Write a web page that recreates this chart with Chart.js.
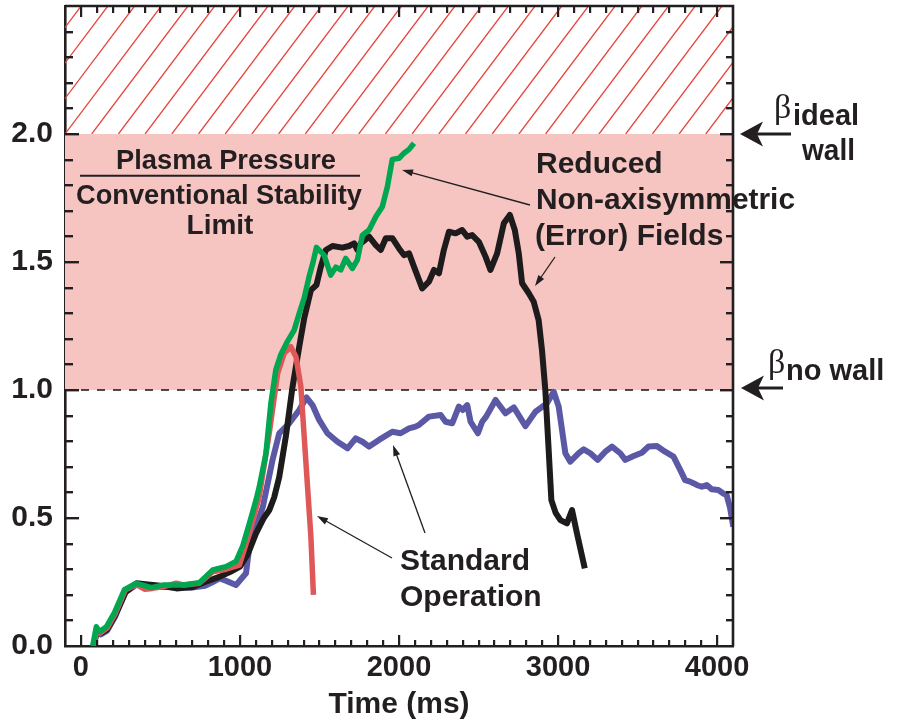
<!DOCTYPE html>
<html>
<head>
<meta charset="utf-8">
<script src="https://cdn.jsdelivr.net/npm/chart.js@4.4.1/dist/chart.umd.min.js"></script>
<style>
html, body { margin: 0; padding: 0; background: #fff; }
</style>
</head>
<body>
<canvas id="chart" width="898" height="723"></canvas>
<script>
// values (time in ms, normalised beta)
const greenTime = [74, 97, 117, 160, 211, 274, 348, 389, 442, 515, 640, 745, 829, 912, 975, 1017, 1060, 1101, 1121, 1163, 1195, 1226, 1258, 1299, 1341, 1373, 1404, 1435, 1460, 1481, 1529, 1571, 1603, 1634, 1665, 1707, 1738, 1770, 1812, 1854, 1895, 1927, 1958, 2000, 2031, 2063, 2094];
const greenBeta = [0, 0.075, 0.056, 0.075, 0.13, 0.22, 0.245, 0.238, 0.228, 0.238, 0.238, 0.247, 0.297, 0.31, 0.33, 0.39, 0.48, 0.57, 0.62, 0.75, 0.95, 1.08, 1.14, 1.19, 1.234, 1.30, 1.36, 1.443, 1.50, 1.557, 1.527, 1.449, 1.48, 1.469, 1.514, 1.475, 1.508, 1.605, 1.625, 1.677, 1.716, 1.794, 1.901, 1.905, 1.925, 1.94, 1.964];

const redTime = [80, 100, 120, 165, 215, 280, 350, 400, 450, 520, 600, 650, 745, 829, 912, 996, 1059, 1121, 1184, 1237, 1278, 1320, 1352, 1383, 1404, 1425, 1446, 1462];
const redBeta = [0, 0.06, 0.05, 0.07, 0.125, 0.22, 0.24, 0.222, 0.225, 0.232, 0.245, 0.238, 0.245, 0.29, 0.30, 0.316, 0.44, 0.583, 0.831, 1.065, 1.143, 1.169, 1.13, 1.013, 0.818, 0.622, 0.427, 0.2];

const blackTime = [80, 100, 125, 165, 215, 280, 350, 420, 500, 600, 700, 780, 870, 940, 1000, 1050, 1101, 1150, 1184, 1215, 1247, 1289, 1330, 1373, 1404, 1446, 1481, 1508, 1540, 1582, 1644, 1686, 1718, 1738, 1760, 1812, 1854, 1885, 1917, 1958, 2000, 2031, 2063, 2094, 2146, 2188, 2220, 2251, 2282, 2314, 2356, 2397, 2429, 2460, 2502, 2544, 2575, 2617, 2659, 2697, 2728, 2753, 2774, 2816, 2847, 2878, 2899, 2920, 2941, 2958, 2985, 3015, 3056, 3088, 3119, 3168];
const blackBeta = [0, 0.06, 0.05, 0.065, 0.12, 0.21, 0.245, 0.24, 0.235, 0.225, 0.23, 0.25, 0.27, 0.29, 0.31, 0.36, 0.44, 0.50, 0.53, 0.58, 0.66, 0.82, 1.01, 1.17, 1.28, 1.39, 1.41, 1.48, 1.547, 1.5625, 1.556, 1.5625, 1.573, 1.547, 1.573, 1.599, 1.566, 1.547, 1.593, 1.593, 1.553, 1.527, 1.534, 1.482, 1.397, 1.423, 1.469, 1.456, 1.547, 1.618, 1.612, 1.625, 1.599, 1.605, 1.579, 1.521, 1.469, 1.534, 1.651, 1.684, 1.625, 1.534, 1.417, 1.378, 1.345, 1.273, 1.156, 1.0, 0.766, 0.57, 0.52, 0.492, 0.479, 0.531, 0.44, 0.303];

const blueTime = [80, 100, 125, 165, 215, 280, 350, 420, 500, 600, 700, 780, 829, 871, 912, 975, 1038, 1059, 1101, 1144, 1205, 1247, 1310, 1373, 1418, 1456, 1498, 1550, 1613, 1676, 1728, 1770, 1812, 1874, 1958, 2010, 2063, 2104, 2125, 2188, 2262, 2293, 2335, 2376, 2401, 2429, 2450, 2496, 2523, 2548, 2607, 2669, 2722, 2795, 2858, 2930, 2973, 3004, 3046, 3077, 3130, 3161, 3203, 3249, 3297, 3339, 3391, 3423, 3475, 3527, 3569, 3621, 3673, 3726, 3768, 3799, 3830, 3851, 3872, 3904, 3935, 3966, 4008, 4039, 4060, 4082, 4102];
const blueBeta = [0, 0.055, 0.045, 0.06, 0.115, 0.21, 0.24, 0.235, 0.23, 0.23, 0.228, 0.235, 0.25, 0.264, 0.255, 0.238, 0.284, 0.388, 0.466, 0.544, 0.727, 0.831, 0.87, 0.922, 0.971, 0.941, 0.883, 0.831, 0.798, 0.772, 0.811, 0.798, 0.779, 0.805, 0.837, 0.831, 0.850, 0.857, 0.863, 0.896, 0.902, 0.876, 0.870, 0.935, 0.922, 0.941, 0.876, 0.831, 0.876, 0.896, 0.961, 0.909, 0.932, 0.859, 0.915, 0.948, 0.993, 0.935, 0.753, 0.720, 0.753, 0.768, 0.753, 0.727, 0.759, 0.779, 0.753, 0.727, 0.742, 0.755, 0.779, 0.781, 0.759, 0.740, 0.688, 0.648, 0.642, 0.636, 0.629, 0.622, 0.629, 0.612, 0.609, 0.596, 0.59, 0.538, 0.466];

const xTicks = [0, 1000, 2000, 3000, 4000];
const yTicks = [0, 0.5, 1.0, 1.5, 2.0];
const xMin = -100, xMax = 4100;
const yMin = 0, yMax = 2.5;
const noWallLimit = 1.0;
const idealWallLimit = 2.0;

const INK = '#231f20';
const BOLD = '"Liberation Sans", Arial, Helvetica, sans-serif';

function toPoints(xs, ys) {
    return xs.map((t, i) => ({ x: t, y: ys[i] }));
}

// pink band, hatched band, dashed no-wall line
const bands = {
    id: 'bands',
    beforeDatasetsDraw(chart) {
        const { ctx, chartArea: a, scales: { y } } = chart;
        const yNo = y.getPixelForValue(noWallLimit);
        const yId = y.getPixelForValue(idealWallLimit);
        const yTop = y.getPixelForValue(yMax);
        ctx.save();
        ctx.fillStyle = '#f6c4c1';
        ctx.fillRect(a.left, yId, a.right - a.left, yNo - yId);

        ctx.save();
        ctx.beginPath();
        ctx.rect(a.left, yTop, a.right - a.left, yId - yTop);
        ctx.clip();
        ctx.strokeStyle = '#e8463e';
        ctx.lineWidth = 1.3;
        const h = yId - yTop;
        const run = h / 1.33;
        const step = 26.7;
        ctx.beginPath();
        for (let x0 = a.left - Math.ceil(run / step) * step; x0 < a.right; x0 += step) {
            ctx.moveTo(x0, yId);
            ctx.lineTo(x0 + run, yTop);
        }
        ctx.stroke();
        ctx.restore();

        ctx.strokeStyle = INK;
        ctx.lineWidth = 1.6;
        ctx.setLineDash([8, 8]);
        ctx.beginPath();
        ctx.moveTo(a.left, yNo);
        ctx.lineTo(a.right, yNo);
        ctx.stroke();
        ctx.restore();
    }
};

function thinArrow(ctx, x1, y1, x2, y2) {
    const ang = Math.atan2(y2 - y1, x2 - x1);
    const c = Math.cos(ang), s = Math.sin(ang);
    const L = 11, W = 3.5;
    ctx.lineWidth = 1.3;
    ctx.beginPath();
    ctx.moveTo(x1, y1);
    ctx.lineTo(x2 - c * L * 0.8, y2 - s * L * 0.8);
    ctx.stroke();
    ctx.beginPath();
    ctx.moveTo(x2, y2);
    ctx.lineTo(x2 - L * c + W * s, y2 - L * s - W * c);
    ctx.lineTo(x2 - L * c - W * s, y2 - L * s + W * c);
    ctx.closePath();
    ctx.fill();
}

function bigArrow(ctx, tx, ty, tailX) {
    ctx.beginPath();
    ctx.moveTo(tx, ty);
    ctx.lineTo(tx + 23, ty - 12.5);
    ctx.lineTo(tx + 17, ty);
    ctx.lineTo(tx + 23, ty + 12.5);
    ctx.closePath();
    ctx.fill();
    ctx.lineWidth = 3;
    ctx.beginPath();
    ctx.moveTo(tx + 16, ty);
    ctx.lineTo(tailX, ty);
    ctx.stroke();
}

function label(ctx, text, x, y, size, align, maxW) {
    ctx.font = 'bold ' + size + 'px ' + BOLD;
    ctx.textAlign = align;
    if (maxW) ctx.fillText(text, x, y, maxW);
    else ctx.fillText(text, x, y);
}

// box, inward ticks, labels and arrows
const frame = {
    id: 'frame',
    afterDraw(chart) {
        const { ctx, chartArea: a, scales } = chart;
        const xs = scales.x, ys = scales.y;
        ctx.save();
        ctx.setLineDash([]);
        ctx.strokeStyle = INK;
        ctx.fillStyle = INK;
        ctx.lineWidth = 2.6;
        ctx.beginPath();
        ctx.moveTo(a.left, a.top);
        ctx.lineTo(a.right, a.top);
        ctx.lineTo(a.right, a.bottom);
        ctx.stroke();

        // inward tick marks, every 0.1 and every 100 ms
        for (let i = 1; i < 25; i++) {
            const py = Math.round(ys.getPixelForValue(i / 10));
            const major = i % 5 === 0;
            ctx.fillRect(a.left, py - 1, major ? 14 : 8, 2.4);
            ctx.fillRect(a.right - (major ? 13 : 7), py - 1, major ? 13 : 7, 2.4);
        }
        for (let t = 0; t < xMax; t += 100) {
            const px = Math.round(xs.getPixelForValue(t));
            const major = t % 1000 === 0;
            ctx.fillRect(px - 1, a.bottom - (major ? 11 : 6), 2.2, major ? 11 : 6);
            ctx.fillRect(px - 1, a.top, 2.2, major ? 11 : 7);
        }

        ctx.textBaseline = 'alphabetic';
        label(ctx, 'Plasma Pressure', 226, 169, 28, 'center', 220);
        ctx.lineWidth = 2;
        ctx.beginPath();
        ctx.moveTo(80, 175.7);
        ctx.lineTo(360, 175.7);
        ctx.stroke();
        label(ctx, 'Conventional Stability', 219, 204, 28, 'center', 286);
        label(ctx, 'Limit', 220, 234, 28, 'center');

        label(ctx, 'Reduced', 536, 173, 30, 'left');
        label(ctx, 'Non-axisymmetric', 536, 209, 30, 'left', 259);
        label(ctx, '(Error) Fields', 535, 245, 30, 'left', 191);

        label(ctx, 'Standard', 400, 570, 30, 'left', 130);
        label(ctx, 'Operation', 400, 606, 30, 'left', 142);

        thinArrow(ctx, 530, 205, 402, 170);
        thinArrow(ctx, 555, 257, 535, 286);
        thinArrow(ctx, 392, 558, 317, 516);
        thinArrow(ctx, 425, 533, 393, 445);

        const yId = ys.getPixelForValue(idealWallLimit);
        const yNo = ys.getPixelForValue(noWallLimit);
        bigArrow(ctx, a.right + 7, yId, a.right + 58);
        bigArrow(ctx, a.right + 8, yNo - 2, a.right + 50);

        ctx.font = '34px "Liberation Serif", "DejaVu Serif", serif';
        ctx.textAlign = 'left';
        ctx.fillText('\u03b2', 774, 118);
        label(ctx, 'ideal', 793, 125, 29, 'left', 67);
        label(ctx, 'wall', 802, 160, 29, 'left', 53);
        ctx.font = '34px "Liberation Serif", "DejaVu Serif", serif';
        ctx.textAlign = 'left';
        ctx.fillText('\u03b2', 768, 373);
        label(ctx, 'no wall', 786, 380, 29, 'left', 100);
        ctx.restore();
    }
};

new Chart(document.getElementById('chart'), {
    type: 'line',
    data: {
        datasets: [
            { data: toPoints(greenTime, greenBeta), borderColor: '#00a650', borderWidth: 5.5 },
            { data: toPoints(redTime, redBeta), borderColor: '#de5858', borderWidth: 5.5 },
            { data: toPoints(blackTime, blackBeta), borderColor: '#1d1b1b', borderWidth: 6 },
            { data: toPoints(blueTime, blueBeta), borderColor: '#5b59a6', borderWidth: 6 }
        ]
    },
    options: {
        responsive: false,
        animation: false,
        layout: { padding: { left: 0, right: 165, top: 6, bottom: 0 } },
        plugins: { legend: { display: false }, tooltip: { enabled: false } },
        elements: {
            point: { radius: 0 },
            line: { tension: 0, fill: false, borderJoinStyle: 'round', borderCapStyle: 'butt' }
        },
        scales: {
            x: {
                type: 'linear',
                min: xMin,
                max: xMax,
                afterBuildTicks: s => { s.ticks = xTicks.map(v => ({ value: v })); },
                afterFit: s => { s.height = 77; s.paddingLeft = 0; s.paddingRight = 0; },
                grid: { display: false, drawTicks: false },
                border: { display: true, width: 2.6, color: INK },
                ticks: {
                    color: INK, padding: 5, maxRotation: 0, autoSkip: false,
                    callback: v => String(v),
                    font: { family: BOLD, size: 29, weight: 'bold' }
                },
                title: {
                    display: true, text: 'Time (ms)', color: INK,
                    font: { family: BOLD, size: 30, weight: 'bold' },
                    padding: { top: 0, bottom: 0 }
                }
            },
            y: {
                min: yMin,
                max: yMax,
                afterBuildTicks: s => { s.ticks = yTicks.map(v => ({ value: v })); },
                afterFit: s => { s.width = 65; s.paddingTop = 0; s.paddingBottom = 0; },
                grid: { display: false, drawTicks: false },
                border: { display: true, width: 2.6, color: INK },
                ticks: {
                    color: INK, padding: 12,
                    callback: v => v.toFixed(1),
                    font: { family: BOLD, size: 30, weight: 'bold' }
                }
            }
        }
    },
    plugins: [bands, frame]
});
</script>
</body>
</html>
